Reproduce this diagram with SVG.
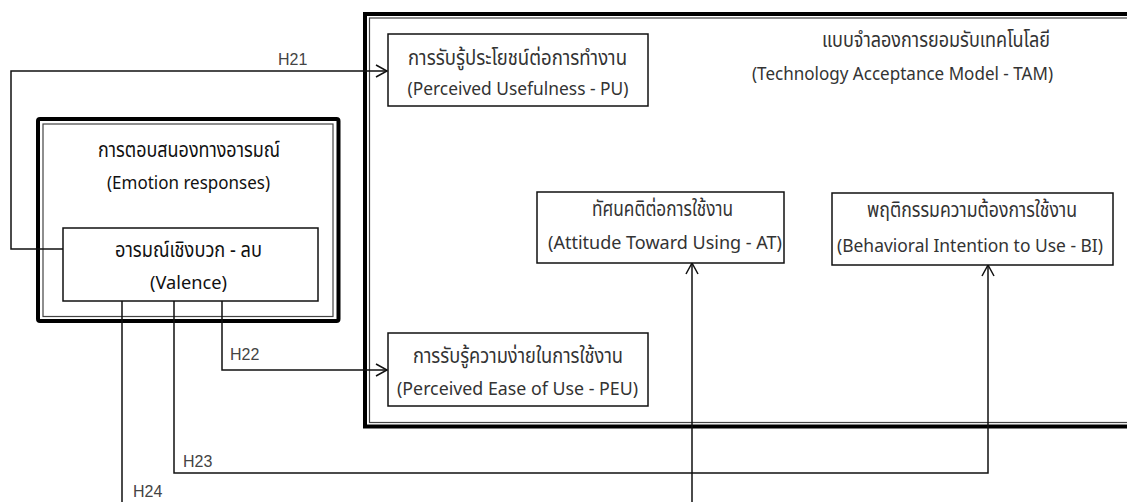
<svg xmlns="http://www.w3.org/2000/svg" width="1127" height="502" viewBox="0 0 1127 502">
<style>
.bg{fill:#ffffff}
.thick{fill:none;stroke:#000;stroke-width:4}
.thin{fill:none;stroke:#444;stroke-width:1.2}
.box{fill:#fff;stroke:#111;stroke-width:1.5}
.conn{fill:none;stroke:#111;stroke-width:1.5}
.t{font-family:"Noto Sans Thai","Noto Sans","Open Sans",sans-serif;font-size:18px;fill:#333;text-anchor:middle}
.th{font-size:21px}
.k{fill:#111}
.lab{font-family:"Liberation Sans",Arial,sans-serif;font-size:16px;fill:#444}
</style>
<defs>
<marker id="arr" markerUnits="userSpaceOnUse" markerWidth="16" markerHeight="16" viewBox="-13 -8 16 16" refX="0" refY="0" orient="auto">
<path d="M-11,-6 L0,0 L-11,6" fill="none" stroke="#111" stroke-width="1.5"/>
</marker>
</defs>
<rect class="bg" x="0" y="0" width="1127" height="502"/>

<g id="tam-frame">
<rect class="thick" x="365" y="14" width="800" height="412.5"/>
<rect class="thin" x="369.5" y="18" width="800" height="404.5"/>
<text class="t th" x="936" y="47" textLength="228" lengthAdjust="spacingAndGlyphs">แบบจำลองการยอมรับเทคโนโลยี</text>
<text class="t" x="902.5" y="80" textLength="301" lengthAdjust="spacingAndGlyphs">(Technology Acceptance Model - TAM)</text>
</g>

<g id="emotion-frame">
<rect class="thick" x="38" y="119" width="300.5" height="202" rx="2"/>
<rect class="thin" x="43" y="124" width="290" height="192.5"/>
<text class="t th k" x="189" y="157" textLength="182" lengthAdjust="spacingAndGlyphs">การตอบสนองทางอารมณ์</text>
<text class="t k" x="188.5" y="189" textLength="163" lengthAdjust="spacingAndGlyphs">(Emotion responses)</text>
</g>

<g id="connectors">
<path class="conn" d="M63,249 H11 V71 H387" marker-end="url(#arr)"/>
<path class="conn" d="M222,301 V370 H387" marker-end="url(#arr)"/>
<path class="conn" d="M174,301 V473 H988 V265" marker-end="url(#arr)"/>
<path class="conn" d="M122,301 V520 H692 V263" marker-end="url(#arr)"/>
<text class="lab" x="278" y="65">H21</text>
<text class="lab" x="230" y="360">H22</text>
<text class="lab" x="183" y="467">H23</text>
<text class="lab" x="133" y="497">H24</text>
</g>

<g id="valence">
<rect class="box" x="63" y="228" width="255" height="73"/>
<text class="t th k" x="188.5" y="257" textLength="147" lengthAdjust="spacingAndGlyphs">อารมณ์เชิงบวก - ลบ</text>
<text class="t k" x="188.5" y="289" textLength="77" lengthAdjust="spacingAndGlyphs">(Valence)</text>
</g>

<g id="pu">
<rect class="box" x="388" y="34" width="260" height="72"/>
<text class="t th" x="517.5" y="65" textLength="219" lengthAdjust="spacingAndGlyphs">การรับรู้ประโยชน์ต่อการทำงาน</text>
<text class="t" x="518" y="95" textLength="221" lengthAdjust="spacingAndGlyphs">(Perceived Usefulness - PU)</text>
</g>

<g id="peu">
<rect class="box" x="388" y="333" width="260" height="73"/>
<text class="t th" x="518" y="363" textLength="210" lengthAdjust="spacingAndGlyphs">การรับรู้ความง่ายในการใช้งาน</text>
<text class="t" x="517.5" y="395" textLength="241" lengthAdjust="spacingAndGlyphs">(Perceived Ease of Use - PEU)</text>
</g>

<g id="at">
<rect class="box" x="537" y="192" width="247" height="71"/>
<text class="t th" x="662.5" y="216" textLength="141" lengthAdjust="spacingAndGlyphs">ทัศนคติต่อการใช้งาน</text>
<text class="t" x="665" y="249" textLength="234" lengthAdjust="spacingAndGlyphs">(Attitude Toward Using - AT)</text>
</g>

<g id="bi">
<rect class="box" x="832" y="193" width="281" height="72"/>
<text class="t th" x="972" y="217" textLength="210" lengthAdjust="spacingAndGlyphs">พฤติกรรมความต้องการใช้งาน</text>
<text class="t" x="970" y="252" textLength="266" lengthAdjust="spacingAndGlyphs">(Behavioral Intention to Use - BI)</text>
</g>
</svg>
